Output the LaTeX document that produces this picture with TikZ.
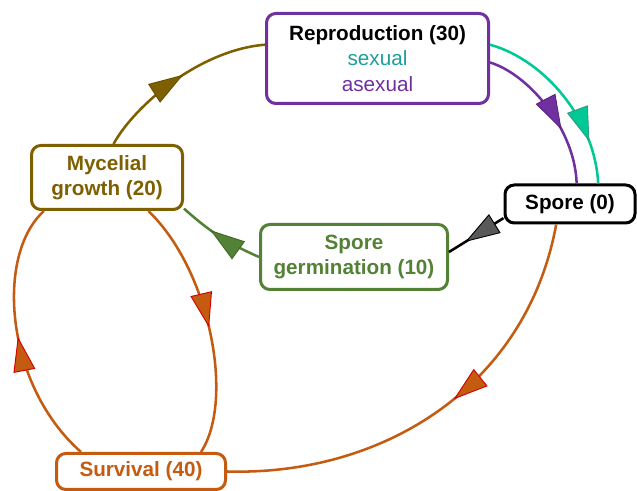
\documentclass[tikz,border=0pt]{standalone}
\usepackage{fontspec}
\setmainfont{Liberation Sans}
\usetikzlibrary{arrows.meta,decorations.markings}
\definecolor{purp}{HTML}{7030A0}
\definecolor{purpdk}{HTML}{5A2580}
\definecolor{tealtxt}{HTML}{1D9E9A}
\definecolor{tealln}{HTML}{00C996}
\definecolor{tealdk}{HTML}{2E9E80}
\definecolor{olive}{HTML}{7F6000}
\definecolor{olivedk}{HTML}{665000}
\definecolor{grn}{HTML}{538135}
\definecolor{grndk}{HTML}{42692A}
\definecolor{orng}{HTML}{C55A11}
\definecolor{redb}{HTML}{D40000}
\definecolor{greyA}{HTML}{595959}
\tikzset{
  box/.style={draw, rounded corners=7pt, line width=2.25pt, fill=white, align=center,
    font=\fontsize{15.5pt}{19pt}\selectfont\bfseries, inner sep=0pt},
  conn/.style={line width=1.9pt},
  midarr/.style n args={3}{postaction={decorate}, decoration={markings,
    mark=at position #1 with {\arrow{Triangle[length=26pt,width=16.5pt,fill=#2,color=#3,line width=0.7pt]}}}}
}
\begin{document}
\begin{tikzpicture}[x=0.75pt,y=-0.75pt]
\useasboundingbox (0,0) rectangle (637,491);
% nodes
\node[box, draw=purp, minimum width=166.5pt, minimum height=67.5pt] (rep) at (377.5,58.5)
  {Reproduction (30)\\{\mdseries\color{tealtxt}sexual}\\{\mdseries\color{purp}asexual}};
\node[box, draw=black, minimum width=97.5pt, minimum height=28.5pt] (spore) at (570,204) {Spore (0)};
\node[box, draw=olive, text=olive, minimum width=113.25pt, minimum height=48pt] (myc) at (107,177.5) {Mycelial\\growth (20)};
\node[box, draw=grn, text=grn, minimum width=140.25pt, minimum height=48.75pt] (germ) at (354,257) {Spore\\germination (10)};
\node[box, draw=orng, text=orng, minimum width=126.75pt, minimum height=27pt] (surv) at (141,471.5) {Survival (40)};
% connectors
\draw[conn, olive, midarr={0.53}{olive}{olivedk}] (myc.79) .. controls (135,105) and (200,50) .. (rep.173);
\draw[conn, purp, midarr={0.64}{purp}{purpdk}] (rep.-2) .. controls (530,75) and (575,130) .. (spore.72);
\draw[conn, tealln, midarr={0.77}{tealln}{tealdk}] (rep.7) .. controls (545,60) and (595,120) .. (spore.36);
\draw[conn, black, midarr={0.7}{greyA}{black}] (spore.192) -- (germ.3);
\draw[conn, grn, midarr={0.62}{grn}{grndk}] (germ.180) to[bend left=9] (myc.-22);
\draw[conn, orng, midarr={0.46}{orng}{redb}] (spore.236) .. controls (527,385) and (385,476) .. (surv.0);
\draw[conn, orng, midarr={0.51}{orng}{redb}] (myc.-39) .. controls (210,270) and (235,400) .. (surv.18.3);
\draw[conn, orng, midarr={0.5}{orng}{redb}] (surv.162.3) .. controls (5,385) and (-5,255) .. (myc.208);
\end{tikzpicture}
\end{document}
